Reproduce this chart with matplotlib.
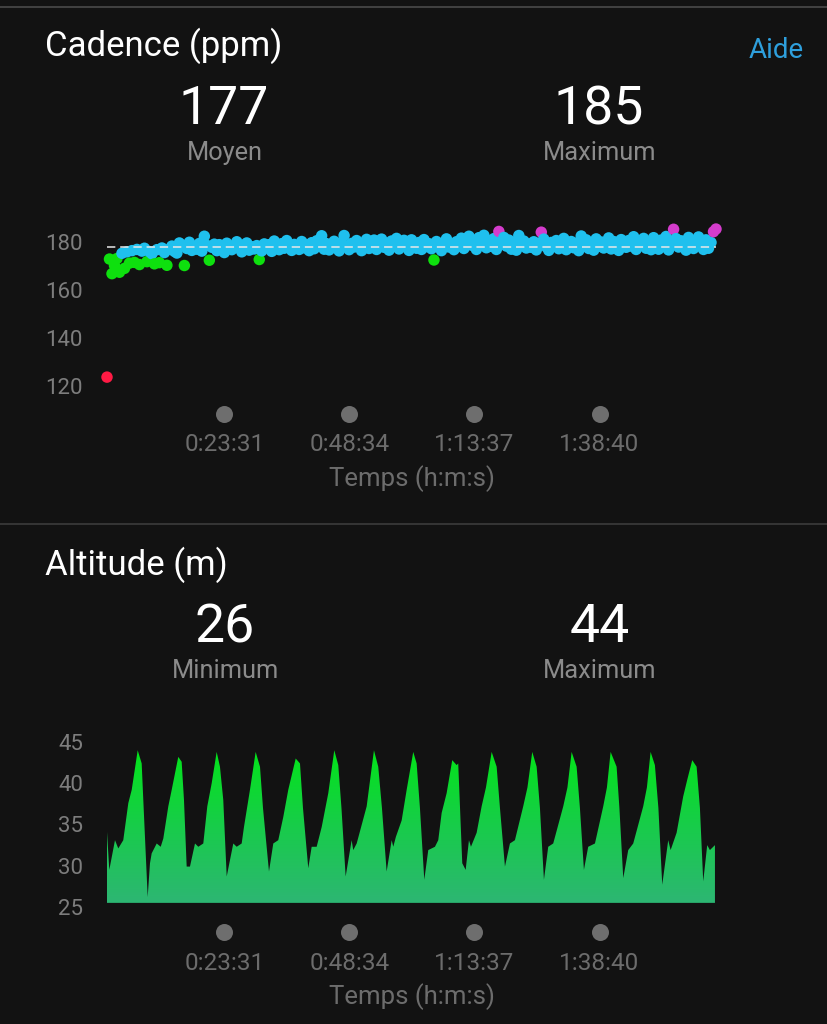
import numpy as np
import matplotlib
matplotlib.use("Agg")
import matplotlib.pyplot as plt
from matplotlib.colors import ListedColormap, BoundaryNorm, LinearSegmentedColormap
import matplotlib.transforms as mtransforms

plt.rcParams['font.family'] = ['Roboto', 'DejaVu Sans']
plt.rcParams['lines.scale_dashes'] = False

# ---------------- data ----------------
# Cadence (steps per minute), one sample every 30 s
cadence_sample_min = 0.5
cadence_values = [
    123.7, 172.9, 166.8, 170.2, 173.1, 167.4, 175.3, 169.0, 175.9, 171.2,
    176.4, 171.5, 176.9, 170.6, 176.2, 177.4, 171.8, 176.0, 175.1, 170.9,
    176.8, 171.4, 177.5, 175.6, 170.3, 177.0, 178.3, 176.1, 175.4, 179.6,
    178.7, 170.2, 177.3, 179.9, 176.5, 178.1, 177.0, 179.4, 176.2, 182.4,
    178.6, 172.4, 177.8, 179.1, 176.4, 178.9, 177.2, 175.6, 179.5, 177.7,
    176.8, 178.3, 180.1, 177.4, 175.9, 178.8, 179.6, 176.6, 178.0, 177.1,
    178.5, 172.7, 176.3, 179.2, 177.6, 178.9, 176.1, 180.4, 177.9, 176.8,
    179.3, 177.4, 180.6, 178.1, 176.5, 179.0, 178.2, 176.9, 180.2, 177.6,
    178.8, 176.4, 179.7, 177.2, 180.5, 178.4, 182.6, 177.0, 179.3, 176.7,
    178.9, 180.3, 177.5, 176.3, 179.8, 182.7, 178.1, 176.8, 179.4, 177.9,
    180.6, 178.2, 176.4, 179.6, 181.1, 177.3, 179.0, 180.8, 176.9, 178.7,
    181.2, 177.8, 179.5, 176.6, 180.4, 178.3, 181.5, 177.1, 179.2, 180.7,
    178.0, 176.5, 180.9, 178.6, 177.4, 179.8, 176.9, 181.0, 178.1, 179.3,
    177.2, 172.5, 180.2, 178.5, 176.4, 179.7, 181.3, 177.9, 179.0, 176.8,
    180.1, 178.4, 181.6, 177.3, 179.6, 182.4, 178.7, 180.3, 176.9, 181.8,
    179.0, 182.8, 177.6, 180.5, 178.2, 181.4, 176.9, 184.4, 179.7, 181.9,
    178.3, 180.8, 177.0, 179.9, 176.6, 182.7, 178.9, 180.4, 177.5, 179.2,
    177.8, 180.1, 176.7, 179.4, 184.1, 181.2, 178.0, 176.5, 179.8, 178.4,
    180.6, 177.2, 179.1, 181.5, 176.8, 178.9, 180.2, 177.6, 179.5, 176.4,
    182.5, 178.7, 180.9, 177.3, 179.6, 176.6, 181.3, 178.2, 180.0, 177.5,
    179.4, 181.7, 177.1, 180.2, 178.6, 176.5, 181.0, 179.1, 177.8, 180.6,
    178.3, 182.2, 176.9, 180.1, 178.8, 181.5, 177.4, 179.7, 176.8, 181.8,
    179.2, 177.0, 180.8, 178.1, 182.3, 176.7, 179.9, 185.3, 181.4, 177.9,
    180.5, 178.4, 176.6, 181.9, 179.0, 177.3, 180.7, 182.1, 178.2, 176.9,
    180.9, 177.4, 179.8, 184.3, 185.4,
]
cadence_avg_text = "177"
cadence_max_text = "185"
cadence_avg_line = 177.9
cadence_zone_bounds = [100, 163.5, 173.5, 183.5, 200]
cadence_zone_colors = ['#ff1a44', '#0ee00e', '#1fc0ee', '#d43ccc']
cadence_yticks = [120, 140, 160, 180]

# Altitude (m)
alt_time_min = [
    0.0, 0.46, 1.60, 2.26, 3.26, 4.27, 4.95, 6.15, 6.95, 7.27, 8.15,
    8.61, 8.95, 9.96, 10.76, 11.28, 12.28, 12.96, 14.28, 14.96, 15.42, 15.96,
    16.62, 17.63, 18.29, 19.29, 20.09, 20.97, 21.97, 22.63, 23.29, 23.98,
    25.30, 25.98, 26.98, 27.44, 28.64, 29.78, 30.65, 31.25, 32.45,
    33.31, 34.31, 35.31, 36.31, 37.80, 38.66, 39.26, 40.32,
    41.00, 42.00, 43.01, 44.33, 45.53, 46.33, 46.97, 47.81,
    49.01, 49.33, 50.02, 52.02, 53.48, 54.34, 55.08, 56.02,
    57.03, 57.35, 57.87, 59.03, 60.03, 61.35, 62.03, 62.69, 63.56,
    64.36, 65.70, 66.36, 67.04, 68.04, 69.16, 70.04, 70.36, 71.17, 71.85,
    72.51, 72.91, 74.05, 75.05, 75.92, 77.06, 78.06, 78.72, 79.72,
    80.72, 81.72, 83.38, 84.23, 85.19, 86.07, 86.73, 87.53,
    88.39, 89.39, 91.40, 92.24, 93.08, 94.08, 94.74, 95.54,
    96.40, 97.75, 99.41, 100.15, 100.89, 102.09, 102.65, 103.42,
    104.42, 105.42, 107.42, 108.16, 108.90, 109.76, 110.46, 111.23,
    112.43, 112.91, 114.11, 115.43, 116.27, 117.24, 118.12, 118.78, 119.44,
    120.24, 120.78, 121.79,
]
alt_m = [
    34.1, 29.5, 33.1, 32.1, 33.1, 37.6, 39.2, 44.0, 42.4, 38.0, 26.2,
    30.3, 31.5, 32.7, 32.3, 33.3, 37.2, 39.2, 43.2, 42.6, 38.0, 29.9,
    29.9, 32.7, 32.3, 32.7, 37.2, 40.0, 43.8, 42.0, 38.0, 28.7,
    32.7, 32.3, 32.7, 34.7, 39.2, 43.8, 42.0, 37.0, 29.3,
    32.7, 33.1, 35.9, 39.2, 43.0, 42.4, 37.0, 29.7,
    32.3, 32.3, 34.7, 38.8, 44.0, 42.2, 37.0, 28.7,
    33.1, 31.9, 32.7, 37.2, 44.0, 42.0, 37.0, 29.3,
    33.1, 32.3, 33.5, 35.5, 39.2, 43.8, 42.4, 37.0, 28.3,
    31.9, 32.3, 33.1, 36.4, 38.8, 42.8, 42.2, 42.4, 30.3, 29.5,
    33.1, 32.3, 34.0, 37.2, 39.5, 43.8, 42.0, 37.0, 29.9,
    32.7, 33.1, 37.2, 39.5, 43.8, 42.0, 37.0, 28.3,
    32.3, 32.7, 37.2, 39.5, 43.8, 42.0, 37.0, 29.5,
    32.3, 32.7, 37.2, 39.5, 43.8, 42.0, 37.0, 28.5,
    31.9, 32.7, 37.2, 39.5, 43.8, 42.2, 37.0, 27.7,
    33.1, 31.9, 34.0, 38.4, 40.5, 42.8, 42.0, 37.0, 28.1,
    32.5, 31.9, 32.5,
]
alt_min_text = "26"
alt_max_text = "44"
alt_base = 25.5
alt_yticks = [25, 30, 35, 40, 45]

time_ticks_min = [23 + 31 / 60, 48 + 34 / 60, 73 + 37 / 60, 98 + 40 / 60]
time_tick_labels = ["0:23:31", "0:48:34", "1:13:37", "1:38:40"]
total_min = 122.0

# ---------------- style ----------------
BG = '#121212'
W, H = 827, 1024
fig = plt.figure(figsize=(W / 100, H / 100), dpi=100, facecolor=BG)


def fx(x):
    return x / W


def fy(y):
    return 1 - y / H


def ax_rect(x0, y0, x1, y1):
    return [fx(x0), fy(y1), (x1 - x0) / W, (y1 - y0) / H]


WHITE = '#ffffff'
GREY = '#8b8b8b'
TICKGREY = '#7d7d7d'
XGREY = '#6c6c6c'

# separators
fig.add_artist(plt.Line2D([0, 1], [fy(7), fy(7)], color='#4a4a4a', lw=1.2))
fig.add_artist(plt.Line2D([0, 1], [fy(524), fy(524)], color='#3c3c3c', lw=1.2))

# headers
TITLE_FS = 25
BIG_FS = 38.5
SUB_FS = 18.3
fig.text(fx(45), fy(46), "Cadence (ppm)", color=WHITE, fontsize=TITLE_FS, va='center', ha='left')
fig.text(fx(804), fy(50), "Aide", color='#2e9fdc', fontsize=20, va='center', ha='right')
fig.text(fx(224), fy(110), cadence_avg_text, color=WHITE, fontsize=BIG_FS, va='center', ha='center')
fig.text(fx(225), fy(153), "Moyen", color=GREY, fontsize=SUB_FS, va='center', ha='center')
fig.text(fx(599), fy(110), cadence_max_text, color=WHITE, fontsize=BIG_FS, va='center', ha='center')
fig.text(fx(600), fy(153), "Maximum", color=GREY, fontsize=SUB_FS, va='center', ha='center')

fig.text(fx(45), fy(565), "Altitude (m)", color=WHITE, fontsize=TITLE_FS, va='center', ha='left')
fig.text(fx(225), fy(628), alt_min_text, color=WHITE, fontsize=BIG_FS, va='center', ha='center')
fig.text(fx(225), fy(671), "Minimum", color=GREY, fontsize=SUB_FS, va='center', ha='center')
fig.text(fx(600), fy(628), alt_max_text, color=WHITE, fontsize=BIG_FS, va='center', ha='center')
fig.text(fx(600), fy(671), "Maximum", color=GREY, fontsize=SUB_FS, va='center', ha='center')


def style_axes(ax, top_px, bottom_px, dot_px, label_px, xlabel_px):
    ax.set_facecolor('none')
    for s in ax.spines.values():
        s.set_visible(False)
    ax.tick_params(axis='y', length=0, pad=24 * 0.72, labelsize=16, labelcolor=TICKGREY)
    h = bottom_px - top_px
    ax.set_xticks(time_ticks_min)
    ax.set_xticklabels(time_tick_labels)
    ax.tick_params(axis='x', length=0, labelsize=17.5, labelcolor=XGREY,
                   pad=(label_px - 9 - bottom_px) * 0.72)
    trans = mtransforms.blended_transform_factory(ax.transData, ax.transAxes)
    ax.scatter(time_ticks_min, [(bottom_px - dot_px) / h] * len(time_ticks_min),
               s=150, color='#6e6e6e', transform=trans, clip_on=False, linewidths=0)
    ax.set_xlabel("Temps (h:m:s)", color=XGREY, fontsize=18.5)
    ax.xaxis.set_label_coords(0.5, (bottom_px - xlabel_px) / h)
    ax.xaxis.label.set_va('center')


# ---------------- cadence ----------------
ax1 = fig.add_axes(ax_rect(107, 220, 716, 400))
cad_t = np.arange(len(cadence_values)) * cadence_sample_min
cmap = ListedColormap(cadence_zone_colors)
norm = BoundaryNorm(cadence_zone_bounds, cmap.N)
ax1.axhline(cadence_avg_line, color='#e8e8e8', lw=1.1, ls=(0, (6, 3.5)), zorder=4)
ax1.scatter(cad_t, cadence_values, c=cadence_values, cmap=cmap, norm=norm,
            s=68, linewidths=0, clip_on=False, zorder=3)
ax1.set_xlim(0, total_min)
ax1.set_ylim(180 - (400 - 242) / 2.4, 180 + (242 - 220) / 2.4)
ax1.set_yticks(cadence_yticks)
style_axes(ax1, 220, 400, 414, 442, 479)

# ---------------- altitude ----------------
ax2 = fig.add_axes(ax_rect(107, 735, 716, 907))
poly = ax2.fill_between(alt_time_min, alt_m, alt_base, color='none', lw=0)
grad = np.linspace(0, 1, 256).reshape(-1, 1)
gcmap = LinearSegmentedColormap.from_list('alt', ['#2db673', '#18cc4a', '#03e41a'])
im = ax2.imshow(grad, cmap=gcmap, origin='lower', aspect='auto',
                extent=[0, total_min, alt_base, max(alt_m)], zorder=2)
im.set_clip_path(poly.get_paths()[0], transform=ax2.transData)
ax2.set_xlim(0, total_min)
ax2.set_ylim(25, 45 + (742 - 735) / 8.25)
ax2.set_yticks(alt_yticks)
style_axes(ax2, 735, 907, 932, 961, 997)

fig.savefig("out.png", dpi=100, facecolor=BG)
